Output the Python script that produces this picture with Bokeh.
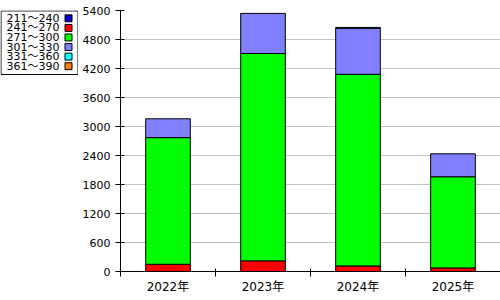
from bokeh.plotting import figure
from bokeh.layouts import row
from bokeh.models import Range1d, FixedTicker, ColumnDataSource
from bokeh.core.properties import value
from bokeh.embed import file_html
from bokeh.resources import INLINE

categories = ["2022年", "2023年", "2024年", "2025年"]
series_names = ["211～240", "241～270", "271～300", "301～330", "331～360", "361～390"]
colors = ["#0000cc", "#ff0000", "#00ff00", "#8080ff", "#00ffff", "#ff8000"]
s211_240 = [0, 0, 0, 0]
s241_270 = [150, 220, 115, 75]
s271_300 = [2620, 4290, 3965, 1885]
s301_330 = [390, 830, 950, 475]
s331_360 = [0, 0, 20, 0]
s361_390 = [0, 0, 0, 0]
y_ticks = [0, 600, 1200, 1800, 2400, 3000, 3600, 4200, 4800, 5400]

FONT = "DejaVu Sans, 'Noto Sans CJK JP', sans-serif"

# ---- legend panel (left) ----
lg = figure(width=78, height=300, x_range=Range1d(0, 78), y_range=Range1d(300, 0),
            output_backend="svg", toolbar_location=None, min_border=0,
            outline_line_color=None)
lg.axis.visible = False
lg.grid.visible = False
lg.quad(left=[0.5], right=[77.5], top=[0.5], bottom=[73.5],
        fill_color="white", line_color="black", line_width=1)
row_y = [9 + 11 * i for i in range(len(series_names))]
lsrc = ColumnDataSource(dict(name=series_names, color=colors, y=row_y,
                             tx=[6] * len(series_names), sx=[68] * len(series_names)))
lg.text(x="tx", y="y", text="name", source=lsrc, text_font=value(FONT),
        text_font_size="11px", text_baseline="middle", text_align="left", text_color="black")
lg.rect(x="sx", y="y", width=7, height=8, source=lsrc, fill_color="color",
        line_color="black", line_width=1)

# ---- main chart ----
series = [s211_240, s241_270, s271_300, s301_330, s331_360, s361_390]
xs = [i + 0.5 for i in range(len(categories))]
data = dict(x=xs)
for i, s in enumerate(series):
    data[f"s{i}"] = s
    data[f"a{i}"] = [1.0 if v > 0 else 0.0 for v in s]
src = ColumnDataSource(data)
p = figure(width=422, height=300, x_range=Range1d(0, len(categories)),
           y_range=Range1d(0, 5400), output_backend="svg", toolbar_location=None,
           min_border_left=42, min_border_right=0, min_border_top=10, min_border_bottom=29,
           outline_line_color=None)
p.vbar_stack([f"s{i}" for i in range(len(series))], x="x", width=0.47, source=src,
             fill_color=colors, line_color="black", line_width=1,
             line_alpha=[f"a{i}" for i in range(len(series))])

p.xgrid.visible = False
p.ygrid.grid_line_color = "#c0c0c0"
p.ygrid.ticker = FixedTicker(ticks=y_ticks)

p.yaxis.ticker = FixedTicker(ticks=y_ticks, minor_ticks=[])
p.yaxis.major_tick_in = 4
p.yaxis.major_tick_out = 5
p.yaxis.major_label_standoff = 5
p.yaxis.major_label_text_font = FONT
p.yaxis.major_label_text_font_size = "11px"
p.yaxis.major_label_text_color = "black"
p.yaxis.axis_line_color = "black"
p.yaxis.major_tick_line_color = "black"

p.xaxis.ticker = FixedTicker(ticks=xs, minor_ticks=[0, 1, 2, 3])
p.xaxis.major_label_overrides = {x: c for x, c in zip(xs, categories)}
p.xaxis.major_tick_line_color = None
p.xaxis.major_tick_in = 0
p.xaxis.major_tick_out = 5
p.xaxis.minor_tick_in = 3
p.xaxis.minor_tick_out = 5
p.xaxis.minor_tick_line_color = "black"
p.xaxis.major_label_standoff = 3
p.xaxis.major_label_text_font = FONT
p.xaxis.major_label_text_font_size = "12px"
p.xaxis.major_label_text_color = "black"
p.xaxis.axis_line_color = "black"

layout = row(lg, p, spacing=0)
open("out.html", "w").write(file_html(layout, INLINE))
